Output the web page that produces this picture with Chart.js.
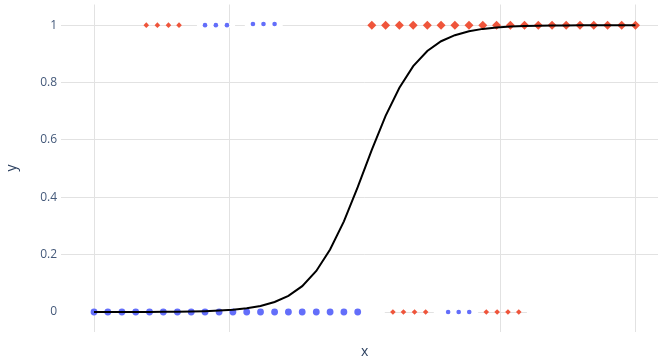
<!DOCTYPE html>
<html>
<head>
<meta charset="utf-8">
<script src="https://cdn.jsdelivr.net/npm/chart.js@4/dist/chart.umd.min.js"></script>
<style>
  html, body { margin: 0; padding: 0; background: #fff; overflow: hidden; width: 658px; height: 360px; }
  canvas { display: block; }
</style>
</head>
<body>
<canvas id="chart" width="673" height="360"></canvas>
<script>
// Sample positions along x
const xValues = [
  -10.00, -9.49, -8.97, -8.46, -7.95, -7.44, -6.92, -6.41, -5.90, -5.38,
  -4.87, -4.36, -3.85, -3.33, -2.82, -2.31, -1.79, -1.28, -0.77, -0.26,
  0.26, 0.77, 1.28, 1.79, 2.31, 2.82, 3.33, 3.85, 4.36, 4.87,
  5.38, 5.90, 6.41, 6.92, 7.44, 7.95, 8.46, 8.97, 9.49, 10.00
];
// Fitted probability at each sample position
const probability = [
  0.000, 0.000, 0.000, 0.000, 0.000, 0.001, 0.001, 0.002, 0.003, 0.005,
  0.008, 0.013, 0.021, 0.035, 0.056, 0.090, 0.143, 0.218, 0.316, 0.435,
  0.565, 0.684, 0.782, 0.857, 0.910, 0.944, 0.965, 0.979, 0.987, 0.992,
  0.995, 0.997, 0.998, 0.999, 0.999, 1.000, 1.000, 1.000, 1.000, 1.000
];
// Observed labels (0 for the first half, 1 for the second half)
const class0X = xValues.slice(0, 20);
const class1X = xValues.slice(20);

// Small marker groups
const topRedX = [-8.07, -7.66, -7.25, -6.86];
const topBlueX1 = [-5.90, -5.50, -5.09];
const topBlueX2 = [-4.13, -3.74, -3.33];
const bottomRedX1 = [1.04, 1.43, 1.84, 2.25];
const bottomBlueX = [3.08, 3.47, 3.86];
const bottomRedX2 = [4.49, 4.89, 5.29, 5.69];

const xTickValues = [-10, -5, 0, 5, 10];
const yTickValues = [0, 0.2, 0.4, 0.6, 0.8, 1];

const BLUE = '#636efa';
const RED = '#EF553B';
const GRID = '#e2e2e2';

const pts = (xs, y) => xs.map(x => ({ x, y }));

Chart.defaults.font.family = "'Open Sans', verdana, arial, sans-serif";
Chart.defaults.color = '#2a3f5f';

// Thin horizontal band behind each small marker group
const groupBands = {
  id: 'groupBands',
  beforeDatasetsDraw(chart) {
    const { ctx, chartArea, scales } = chart;
    ctx.save();
    ctx.beginPath();
    ctx.rect(chartArea.left, chartArea.top, chartArea.right - chartArea.left, chartArea.bottom - chartArea.top);
    ctx.clip();
    chart.data.datasets.forEach(ds => {
      if (!ds.bandColor) return;
      const xs = ds.data.map(p => p.x);
      const y = Math.round(scales.y.getPixelForValue(ds.data[0].y)) + 0.5;
      const x0 = scales.x.getPixelForValue(Math.min(...xs) - 0.3);
      const x1 = scales.x.getPixelForValue(Math.max(...xs) + 0.3);
      ctx.strokeStyle = ds.bandColor;
      ctx.lineWidth = ds.bandWidth;
      ctx.beginPath();
      ctx.moveTo(x0, y);
      ctx.lineTo(x1, y);
      ctx.stroke();
    });
    ctx.restore();
  }
};

const smallGroup = (xs, y, color, style, r, band, bw) => ({
  data: pts(xs, y),
  showLine: false,
  pointStyle: style,
  pointRadius: r,
  pointBackgroundColor: color,
  pointBorderWidth: 0,
  bandColor: band,
  bandWidth: bw
});

new Chart(document.getElementById('chart'), {
  type: 'scatter',
  data: {
    datasets: [
      {
        data: xValues.map((x, i) => ({ x, y: probability[i] })),
        showLine: true,
        borderColor: '#000000',
        borderWidth: 2,
        pointRadius: 0,
        tension: 0
      },
      {
        data: pts(class0X, 0),
        pointStyle: 'circle',
        pointRadius: 3.4,
        pointBackgroundColor: BLUE,
        pointBorderWidth: 0
      },
      {
        data: pts(class1X, 1),
        pointStyle: 'rectRot',
        pointRadius: 4.5,
        pointBackgroundColor: RED,
        pointBorderWidth: 0
      },
      smallGroup(topRedX, 1, RED, 'rectRot', 2.8, GRID, 1),
      smallGroup(topBlueX1, 1, BLUE, 'circle', 2.3, '#ffffff', 4),
      smallGroup(topBlueX2, 1.004, BLUE, 'circle', 2.3, '#ffffff', 4),
      smallGroup(bottomRedX1, 0, RED, 'rectRot', 2.8, GRID, 1),
      smallGroup(bottomBlueX, 0, BLUE, 'circle', 2.3, '#ffffff', 4),
      smallGroup(bottomRedX2, 0, RED, 'rectRot', 2.8, GRID, 1)
    ]
  },
  options: {
    responsive: false,
    animation: false,
    layout: { padding: 0 },
    plugins: { legend: { display: false }, tooltip: { enabled: false } },
    scales: {
      x: {
        type: 'linear',
        min: -11.22,
        max: 11.22,
        z: 0,
        afterBuildTicks: s => { s.ticks = xTickValues.map(v => ({ value: v })); },
        afterFit: s => {
          s.height = 28.5;
          s.paddingLeft = 0;
          s.paddingRight = 0;
        },
        ticks: { display: false },
        grid: {
          drawTicks: false,
          color: c => (c.tick && c.tick.value === 0) ? '#ffffff' : GRID,
          lineWidth: c => (c.tick && c.tick.value === 0) ? 2 : 1
        },
        border: { display: false },
        title: {
          display: true,
          text: 'x',
          font: { size: 14 },
          color: '#2a3f5f',
          padding: { top: 0, bottom: 0 }
        }
      },
      y: {
        type: 'linear',
        min: -0.068,
        max: 1.072,
        z: -1,
        afterBuildTicks: s => { s.ticks = yTickValues.map(v => ({ value: v })); },
        afterFit: s => {
          s.width = 61;
          s.paddingTop = 0;
          s.paddingBottom = 0;
        },
        ticks: {
          padding: 4,
          font: { size: 12 },
          color: '#44597a',
          callback: v => String(Math.round(v * 10) / 10)
        },
        grid: {
          drawTicks: false,
          color: c => (c.tick && c.tick.value === 0) ? 'rgba(0,0,0,0)' : GRID
        },
        border: { display: false },
        title: {
          display: true,
          text: 'y',
          font: { size: 14 },
          color: '#2a3f5f',
          padding: { top: 4, bottom: 0 }
        }
      }
    }
  },
  plugins: [groupBands]
});
</script>
</body>
</html>
